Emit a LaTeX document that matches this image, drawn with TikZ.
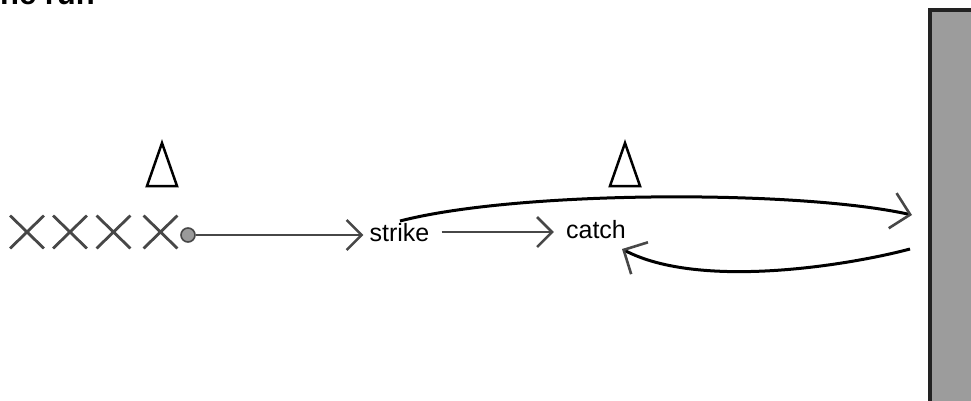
\documentclass[tikz,border=0pt]{standalone}
\usepackage{fontspec}
\setmainfont{Liberation Sans}
\usetikzlibrary{arrows.meta,shapes.misc}

\definecolor{linegray}{HTML}{474747}
\definecolor{ballgray}{HTML}{9A9A9A}
\definecolor{wallgray}{HTML}{9C9C9C}
\definecolor{walledge}{HTML}{222222}

\tikzset{
  player/.style={cross out, draw=linegray, line width=2.8pt, minimum width=31pt, minimum height=30pt, inner sep=0pt},
  cone/.style={draw=black, line width=2.5pt, line join=miter},
  label text/.style={font=\fontsize{25}{25}\selectfont, inner sep=3pt},
  pass/.style={draw=linegray, line width=2.5pt, -{Straight Barb[length=15pt, width=30pt, line width=2.6pt]}},
  run/.style={draw=black, line width=3pt, -{Straight Barb[length=18pt, width=36pt, line width=2.6pt, color=linegray]}}
}

\begin{document}
\begin{tikzpicture}[x=1pt, y=-1pt]

			\useasboundingbox (0,0) rectangle (971,400);
			\clip (0,0) rectangle (971,400);

			% Title, cut off at the top
			\node[anchor=base west, inner sep=0pt, font=\bfseries\fontsize{31}{31}\selectfont] (title) at (-19,4) {The run};

			% The wall on the right
			\draw[fill=wallgray, draw=walledge, line width=3.5pt] (930,10) rectangle (990,420);

			% Cones
			\foreach \name/\x in {cone1/162, cone2/625} {
					\draw[cone] (\x,143) -- (\x+15,186) -- (\x-15,186) -- cycle;
				}

			% Players waiting in line
			\foreach \name/\x in {p1/27, p2/70, p3/113.5, p4/160.5} {
					\node[player] (\name) at (\x,232) {};
				}
			\node[circle, draw=linegray, fill=ballgray, line width=1.6pt, minimum size=14pt, inner sep=0pt] (ball) at (188,235) {};

			% Stations
			\node[label text] (strike) at (399.5,233) {strike};
			\node[label text] (catch) at (596,230) {catch};

			% Passes
			\draw[pass, shorten >=3pt] (ball.east) -- (strike.west |- ball.east);
			\draw[pass, shorten <=9pt, shorten >=9pt] ([yshift=1pt]strike.east) -- ([yshift=1pt]catch.west |- strike.east);

			% Run to the wall and back
			\coordinate (start) at (400,221);
			\coordinate (wallhit) at (912,215);
			\coordinate (rebound) at (910,249);
			\coordinate (back) at (622,249);
			\draw[run] (start) .. controls (520,190) and (800,190) .. (wallhit);
			\draw[run] (rebound) .. controls (850,265) and (700,290) .. (back);

		\end{tikzpicture}
\end{document}
